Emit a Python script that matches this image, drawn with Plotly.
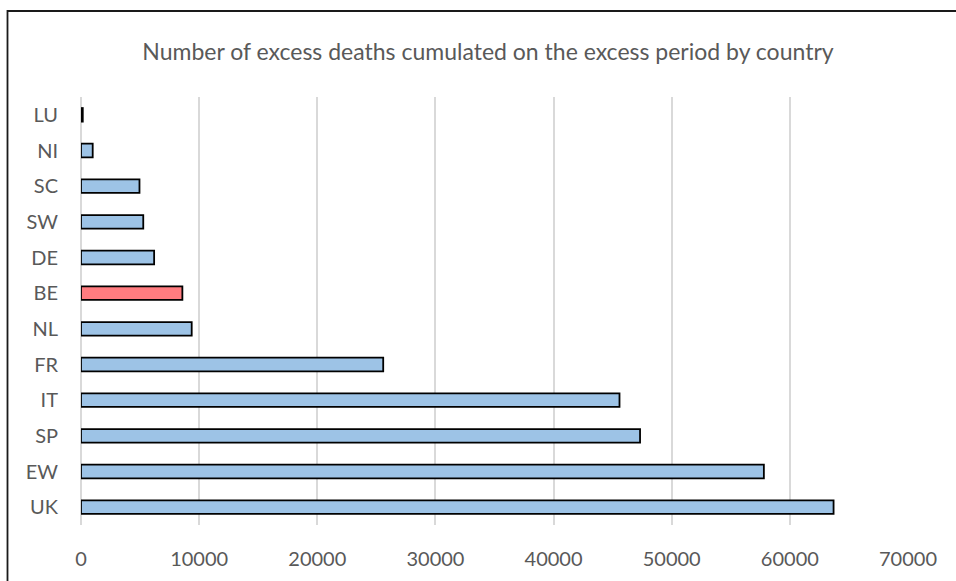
import plotly.graph_objects as go

# Excess deaths cumulated over each country's excess period
countries = ["UK", "EW", "SP", "IT", "FR", "NL", "BE", "DE", "SW", "SC", "NI", "LU"]
excess_deaths = [63700, 57800, 47320, 45580, 25580, 9370, 8580, 6190, 5270, 4950, 990, 150]
highlight = "BE"

x_ticks = [0, 10000, 20000, 30000, 40000, 50000, 60000, 70000]

W, H = 956, 581
ML, MR, MT, MB = 81, 48, 97, 56

blue = "#9DC3E6"
red = "#FF7C80"
colors = [red if c == highlight else blue for c in countries]

fig = go.Figure(
    go.Bar(
        x=excess_deaths,
        y=countries,
        orientation="h",
        marker=dict(color=colors, line=dict(color="#000000", width=1.8)),
        width=0.38,
    )
)

font_family = "Lato, 'Open Sans', sans-serif"
text_grey = "#595959"

fig.update_layout(
    width=W,
    height=H,
    margin=dict(l=ML, r=MR, t=MT, b=MB, autoexpand=False),
    paper_bgcolor="white",
    plot_bgcolor="white",
    showlegend=False,
    title=dict(
        text="Number of excess deaths cumulated on the excess period by country",
        x=488 / W,
        xanchor="center",
        y=1 - 52 / H,
        yanchor="middle",
        font=dict(family=font_family, size=23, color=text_grey),
    ),
    font=dict(family=font_family, color=text_grey),
)

fig.update_xaxes(
    range=[0, 70000],
    tickvals=x_ticks,
    ticktext=[str(v) for v in x_ticks],
    showgrid=True,
    gridcolor="#D9D9D9",
    gridwidth=1.5,
    zeroline=True,
    zerolinecolor="#D9D9D9",
    zerolinewidth=1.5,
    showline=False,
    ticks="",
    ticklabelstandoff=20,
    tickfont=dict(family=font_family, size=20, color=text_grey),
    fixedrange=True,
)

fig.update_yaxes(
    categoryorder="array",
    categoryarray=countries,
    range=[-0.5, len(countries) - 0.5],
    showgrid=False,
    showline=False,
    ticks="",
    ticklabelstandoff=22,
    tickfont=dict(family=font_family, size=20, color=text_grey),
    fixedrange=True,
)

# Chart-area frame (top and left edges; the right and bottom run off the page)
plot_w = W - ML - MR
plot_h = H - MT - MB
fx0 = (7.5 - ML) / plot_w
fy1 = (H - MB - 11) / plot_h
fig.add_shape(
    type="rect",
    xref="paper",
    yref="paper",
    x0=fx0,
    x1=(975 - ML) / plot_w,
    y0=-(MB + 20) / plot_h,
    y1=fy1,
    line=dict(color="#1a1a1a", width=1.8),
    fillcolor="rgba(0,0,0,0)",
    layer="above",
)

fig.write_html("out.html")
